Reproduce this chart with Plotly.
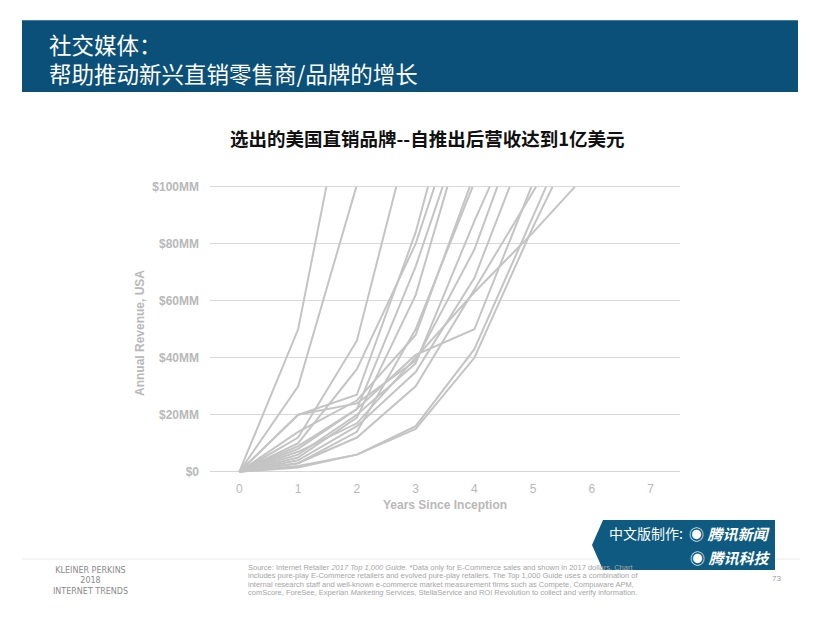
import plotly.graph_objects as go

# ---------------- data ($MM) ----------------
years_01 = [0, 1, 1.48];                 revenue_01 = [0, 50, 100]
years_02 = [0, 1, 1.99];                 revenue_02 = [0, 30, 100]
years_03 = [0, 1, 2, 2.67];              revenue_03 = [0, 12, 46, 100]
years_04 = [0, 1, 2, 3, 3.21];           revenue_04 = [0, 20, 27, 84, 100]
years_05 = [0, 1, 2, 3, 3.32];           revenue_05 = [0, 10, 36, 80, 100]
years_06 = [0, 1, 2, 3, 3.46];           revenue_06 = [0, 8, 22, 72, 100]
years_07 = [0, 1, 2, 3, 3.54];           revenue_07 = [0, 5, 19, 62, 100]
years_08 = [0, 1, 2, 3, 3.92];           revenue_08 = [0, 14, 25, 48, 100]
years_09 = [0, 1, 2, 3, 3.97];           revenue_09 = [0, 3, 14, 50, 100]
years_10 = [0, 1, 2, 3, 4, 4.26];        revenue_10 = [0, 6, 20, 38, 88, 100]
years_11 = [0, 1, 2, 3, 4, 4.39];        revenue_11 = [0, 20, 24, 39, 78, 100]
years_12 = [0, 1, 2, 3, 4, 4.6];         revenue_12 = [0, 4, 16, 35, 68, 100]
years_13 = [0, 1, 2, 3, 4, 4.97];        revenue_13 = [0, 9, 22, 41, 50, 100]
years_14 = [0, 1, 2, 3, 4, 5, 5.05];     revenue_14 = [0, 3, 12, 30, 64, 98, 100]
years_15 = [0, 1, 2, 3, 4, 5, 5.22];     revenue_15 = [0, 2, 6, 16, 43, 90, 100]
years_16 = [0, 1, 2, 3, 4, 5, 5.33];     revenue_16 = [0, 1.5, 6, 15, 40, 86, 100]
years_17 = [0, 1, 2, 3, 4, 5, 5.71];     revenue_17 = [0, 7, 17, 40, 63, 84, 100]

y_tick_values = [0, 20, 40, 60, 80, 100]
y_tick_labels = ["$0", "$20MM", "$40MM", "$60MM", "$80MM", "$100MM"]
x_tick_values = [0, 1, 2, 3, 4, 5, 6, 7]

header_lines = ["社交媒体：", "帮助推动新兴直销零售商/品牌的增长"]
chart_title = "选出的美国直销品牌--自推出后营收达到1亿美元"
y_title = "Annual Revenue, USA"
x_title = "Years Since Inception"
source_lines = [
    "Source: Internet Retailer <i>2017 Top 1,000 Guide</i>. *Data only for E-Commerce sales and shown in 2017 dollars. Chart",
    "includes pure-play E-Commerce retailers and evolved pure-play retailers. The Top 1,000 Guide uses a combination of",
    "internal research staff and well-known e-commerce market measurement firms such as Compete, Compuware APM,",
    "comScore, ForeSee, Experian <i>Marketing</i> Services, StellaService and ROI Revolution to collect and verify information.",
]
footer_brand = ["KLEINER PERKINS", "2018", "INTERNET TRENDS"]
page_number = "73"

series = [
    (years_01, revenue_01), (years_02, revenue_02), (years_03, revenue_03),
    (years_04, revenue_04), (years_05, revenue_05), (years_06, revenue_06),
    (years_07, revenue_07), (years_08, revenue_08), (years_09, revenue_09),
    (years_10, revenue_10), (years_11, revenue_11), (years_12, revenue_12),
    (years_13, revenue_13), (years_14, revenue_14), (years_15, revenue_15),
    (years_16, revenue_16), (years_17, revenue_17),
]

# ---------------- layout geometry ----------------
W, H = 826, 628
ML, MR, MT, MB = 210, 146, 184, 152
PW, PH = W - ML - MR, H - MT - MB


def px(x):
    return (x - ML) / PW


def py(y):
    return (H - MB - y) / PH


CJK = "Noto Sans CJK SC, sans-serif"
LAT = "Liberation Sans, Arial, sans-serif"

fig = go.Figure()
for xs, ys in series:
    fig.add_trace(go.Scatter(
        x=xs, y=ys, mode="lines",
        line=dict(color="#c4c4c4", width=2),
        hoverinfo="skip", showlegend=False,
    ))

shapes = [
    dict(type="rect", xref="paper", yref="paper",
         x0=px(22), x1=px(798), y0=py(20), y1=py(92),
         fillcolor="#0b5079", line=dict(width=0), layer="below"),
    dict(type="line", xref="paper", yref="paper",
         x0=px(22), x1=px(798), y0=py(20.5), y1=py(20.5),
         line=dict(color="#3f7fa6", width=1)),
    dict(type="line", xref="paper", yref="paper",
         x0=px(22), x1=px(800), y0=py(559), y1=py(559),
         line=dict(color="#ececec", width=1)),
    dict(type="path", xref="paper", yref="paper",
         path=(f"M {px(603)} {py(520)} L {px(775)} {py(520)} L {px(775)} {py(570)} "
               f"L {px(603)} {py(570)} L {px(592)} {py(545)} Z"),
         fillcolor="#0e5a80", line=dict(width=0)),
]

annotations = [
    dict(text="<br>".join(header_lines), x=px(47), y=py(58.5), xanchor="left", yanchor="middle",
         align="left", font=dict(family=CJK, size=22.5, color="white")),
    dict(text="<b>" + chart_title + "</b>", x=px(427), y=py(138), xanchor="center", yanchor="middle",
         font=dict(family=CJK, size=18.5, color="#111111")),
    dict(text="<b>" + y_title + "</b>", x=px(140), y=py(333), xanchor="center", yanchor="middle",
         textangle=-90, font=dict(family=LAT, size=12, color="#b8b8b8")),
    dict(text="<b>" + x_title + "</b>", x=px(445), y=py(505), xanchor="center", yanchor="middle",
         font=dict(family=LAT, size=12, color="#b8b8b8")),
    dict(text="中文版制作:", x=px(607), y=py(533), xanchor="left", yanchor="middle",
         font=dict(family=CJK, size=14, color="white")),
    dict(text="◉ <b><i>腾讯新闻</i></b>", x=px(772), y=py(533), xanchor="right", yanchor="middle",
         font=dict(family=CJK, size=15, color="white")),
    dict(text="◉ <b><i>腾讯科技</i></b>", x=px(772), y=py(557), xanchor="right", yanchor="middle",
         font=dict(family=CJK, size=15, color="white")),
    dict(text=page_number, x=px(776), y=py(578), xanchor="center", yanchor="middle",
         font=dict(family=LAT, size=8, color="#9a9a9a")),
    dict(text="<br>".join(footer_brand), x=px(90), y=py(580.5), xanchor="center", yanchor="middle",
         align="center", font=dict(family="DejaVu Sans, sans-serif", size=8, color="#8a8a8a")),
]
for i, t in enumerate(source_lines):
    annotations.append(dict(text=t, x=px(246), y=py([567, 575.5, 584, 592][i]), xanchor="left",
                            yanchor="middle",
                            font=dict(family=LAT, size=7.5, color="#a5a5a5")))
for a in annotations:
    a.setdefault("xref", "paper")
    a.setdefault("yref", "paper")
    a.setdefault("showarrow", False)

fig.update_layout(
    width=W, height=H,
    margin=dict(l=ML, r=MR, t=MT, b=MB, pad=0),
    paper_bgcolor="white", plot_bgcolor="white",
    shapes=shapes, annotations=annotations,
    xaxis=dict(range=[-0.5, 7.5], tickvals=x_tick_values, showgrid=False, zeroline=False,
               showline=False, ticks="", ticklabelstandoff=4,
               tickfont=dict(family=LAT, size=12, color="#b8b8b8")),
    yaxis=dict(range=[-1.5, 101], tickvals=y_tick_values, ticktext=y_tick_labels,
               showgrid=True, gridcolor="#d9d9d9", gridwidth=1,
               zeroline=True, zerolinecolor="#d6d6d6", zerolinewidth=1,
               showline=False, ticks="", ticklabelstandoff=10,
               tickfont=dict(family=LAT, size=12, color="#b8b8b8", weight="bold")),
)

fig.write_html("out.html", config={"displayModeBar": False},
               post_script="document.body.style.margin='0';document.body.style.overflow='hidden';")
